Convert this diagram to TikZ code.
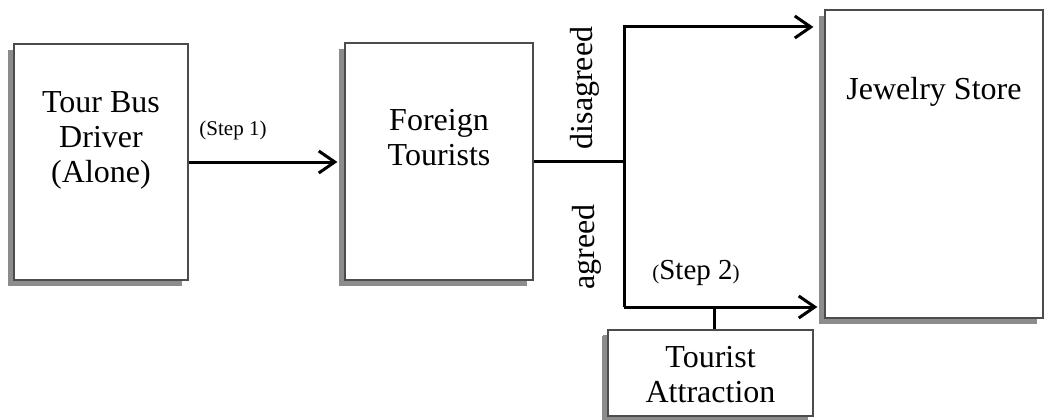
\documentclass[tikz,border=0pt]{standalone}
\usepackage{fontspec}
\setmainfont{Liberation Serif}
\usetikzlibrary{arrows.meta,shadows,calc}
\begin{document}
\begin{tikzpicture}[x=1pt,y=-1pt,
  box/.style={draw=black!70, line width=1.2pt, fill=white, inner sep=0pt,
    drop shadow={shadow xshift=-6pt, shadow yshift=-6pt, fill=black!45, opacity=1}},
  txt/.style={align=center, font=\fontsize{32}{35}\selectfont, inner sep=0pt},
  small/.style={font=\fontsize{21}{24}\selectfont, inner sep=0pt},
  conn/.style={line width=3pt, line join=miter},
  arr/.style={conn, -{Straight Barb[length=16pt,width=22pt,line width=3pt]}}]

\useasboundingbox (0,0) rectangle (1044,420);

% boxes
\node[box, minimum width=174pt, minimum height=236pt] (driver) at (101,162) {};
\node[box, minimum width=188pt, minimum height=237pt] (foreign) at (439,161.5) {};
\node[box, minimum width=218pt, minimum height=308pt] (jewelry) at (934,164) {};
\node[box, minimum width=205pt, minimum height=86pt, drop shadow={shadow xshift=-5pt, shadow yshift=-5pt, fill=black!45, opacity=1}] (attraction) at (710.5,373) {};

% box texts
\node[txt] (driverlbl) at (101,140) {Tour Bus\\Driver\\(Alone)};
\node[txt] (foreignlbl) at (439,137.5) {Foreign\\Tourists};
\node[txt] (jewelrylbl) at (934,92) {Jewelry Store};
\node[txt] (attractionlbl) at (710.5,375) {Tourist\\Attraction};

% junction coordinates
\coordinate (up) at (624,27);
\coordinate (down) at (624,307);

% connectors
\draw[arr, shorten >=7pt] (driver.east) -- (driver.east -| foreign.west);
\draw[conn] (foreign.east) -- (foreign.east -| up);
\draw[arr, shorten >=11pt] (down) -- (up) -- (up -| jewelry.west);
\draw[arr, shorten >=7pt] (down) -- (down -| jewelry.west);
\draw[conn] ([xshift=3.5pt]attraction.north) -- ([xshift=3.5pt]attraction.north |- down);

% labels
\node[small] (step1) at (233,130) {(Step 1)};
\node[txt, rotate=90] (disagreed) at (585,88) {disagreed};
\node[txt, rotate=90] (agreed) at (587,247) {agreed};
\node[txt, font=\fontsize{29}{32}\selectfont] (step2) at (696,273) {{\fontsize{21}{24}\selectfont(}Step 2{\fontsize{21}{24}\selectfont)}};
\end{tikzpicture}
\end{document}
